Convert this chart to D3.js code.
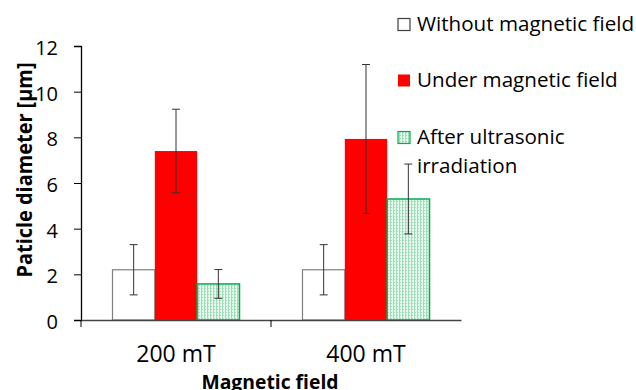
<!DOCTYPE html>
<html><head><meta charset="utf-8">
<script src="https://cdn.jsdelivr.net/npm/d3@7"></script>
<style>body{margin:0;background:#fff;}svg{display:block;font-family:"Open Sans","Liberation Sans",sans-serif;}</style>
</head><body><svg id="c" width="636" height="390"></svg>
<script>
const categories = ["200 mT", "400 mT"];
const seriesNames = ["Without magnetic field", "Under magnetic field", "After ultrasonic irradiation"];
const withoutField = [2.2, 2.2];
const underField = [7.4, 7.93];
const afterUltrasonic = [1.58, 5.3];
const errWithout = [1.1, 1.1];
const errUnder = [1.83, 3.26];
const errAfter = [0.63, 1.53];
const yTicks = [0, 2, 4, 6, 8, 10, 12];

const svg = d3.select("#c");
const defs = svg.append("defs");
const pat = defs.append("pattern").attr("id","dots").attr("patternUnits","userSpaceOnUse").attr("width",3).attr("height",3);
pat.append("rect").attr("width",3).attr("height",3).attr("fill","#e6f7ed");
pat.append("rect").attr("x",0).attr("y",0).attr("width",2).attr("height",1).attr("fill","#9fdcb8");
pat.append("rect").attr("x",0).attr("y",1).attr("width",1).attr("height",2).attr("fill","#9fdcb8");

const x0 = d3.scaleBand().domain(categories).range([81, 461]).paddingInner(0).paddingOuter(0);
const inner = d3.scaleBand().domain(seriesNames).range([31.5, x0.bandwidth()-31.5]).paddingInner(0).paddingOuter(0);
const y = d3.scaleLinear().domain([0, 12]).range([320, 46]);

const styles = [
  {fill:"#ffffff", stroke:"#808080"},
  {fill:"#ff0000", stroke:"none"},
  {fill:"url(#dots)", stroke:"#00b050"}
];
const vals = [withoutField, underField, afterUltrasonic];
const errs = [errWithout, errUnder, errAfter];

// y axis
const yAxis = d3.axisLeft(y).tickValues(yTicks).tickSize(7).tickPadding(16);
const gy = svg.append("g").attr("transform","translate(81,0)").call(yAxis);
gy.select(".domain").attr("stroke","#000").attr("stroke-width",1.3);
gy.selectAll(".tick line").attr("stroke","#000");
gy.selectAll("text").attr("font-size",20).attr("fill","#000").attr("font-family","'Open Sans',sans-serif").attr("dy","0.42em");

// bars
seriesNames.forEach((s, si) => {
  categories.forEach((c, ci) => {
    const bx = x0(c) + inner(s);
    const bw = inner.bandwidth();
    svg.append("rect").attr("x", bx).attr("y", y(vals[si][ci])).attr("width", bw)
      .attr("height", y(0) - y(vals[si][ci]))
      .attr("fill", styles[si].fill).attr("stroke", styles[si].stroke).attr("stroke-width", si==2?1.5:1.2);
  });
});
// error bars
seriesNames.forEach((s, si) => {
  categories.forEach((c, ci) => {
    const cx = x0(c) + inner(s) + inner.bandwidth()/2;
    const v = vals[si][ci], e = errs[si][ci];
    const g = svg.append("g").attr("stroke","#333").attr("stroke-width",1);
    g.append("line").attr("x1",cx).attr("x2",cx).attr("y1",y(v+e)).attr("y2",y(v-e));
    g.append("line").attr("x1",cx-4).attr("x2",cx+4).attr("y1",y(v+e)).attr("y2",y(v+e));
    g.append("line").attr("x1",cx-4).attr("x2",cx+4).attr("y1",y(v-e)).attr("y2",y(v-e));
  });
});

// x axis
const xAxis = d3.axisBottom(x0).tickSize(0).tickPadding(26);
const gx = svg.append("g").attr("transform","translate(0,320)").call(xAxis);
gx.select(".domain").attr("stroke","#444").attr("stroke-width",1.3);
gx.selectAll("text").attr("font-size",23).attr("fill","#000").attr("font-family","'Open Sans',sans-serif");
const bounds = [x0.range()[0], x0(categories[1])];
gx.selectAll(".sep").data(bounds).enter().append("line").attr("class","sep")
  .attr("x1",d=>d).attr("x2",d=>d).attr("y1",0).attr("y2",7).attr("stroke","#000").attr("stroke-width",1);

// axis titles
svg.append("text").attr("transform","translate(32,170) rotate(-90)").attr("text-anchor","middle")
  .attr("font-size",22).attr("font-weight","bold").attr("fill","#000")
  .attr("textLength",215).attr("lengthAdjust","spacingAndGlyphs").text("Paticle diameter  [μm]");
svg.append("text").attr("x",270).attr("y",389).attr("text-anchor","middle")
  .attr("font-size",20).attr("font-weight","bold").attr("fill","#000")
  .attr("textLength",137).attr("lengthAdjust","spacingAndGlyphs").text("Magnetic field");

// legend
const legY = [31, 87, 144];
const leg = svg.append("g");
seriesNames.forEach((s, i) => {
  leg.append("rect").attr("x",398).attr("y",legY[i]-12.5).attr("width",12).attr("height",12)
    .attr("fill",styles[i].fill).attr("stroke", i==0?"#404040":(i==2?"#00b050":"none")).attr("stroke-width",1.2);
});
const legText = [["Without magnetic field"],["Under magnetic field"],["After ultrasonic","irradiation"]];
legText.forEach((lines,i)=>{
  const t = leg.append("text").attr("x",417).attr("y",legY[i]).attr("font-size",20.6).attr("fill","#000");
  lines.forEach((l,j)=>t.append("tspan").attr("x",417).attr("dy", j==0?0:28.5).text(l));
});
</script></body></html>
